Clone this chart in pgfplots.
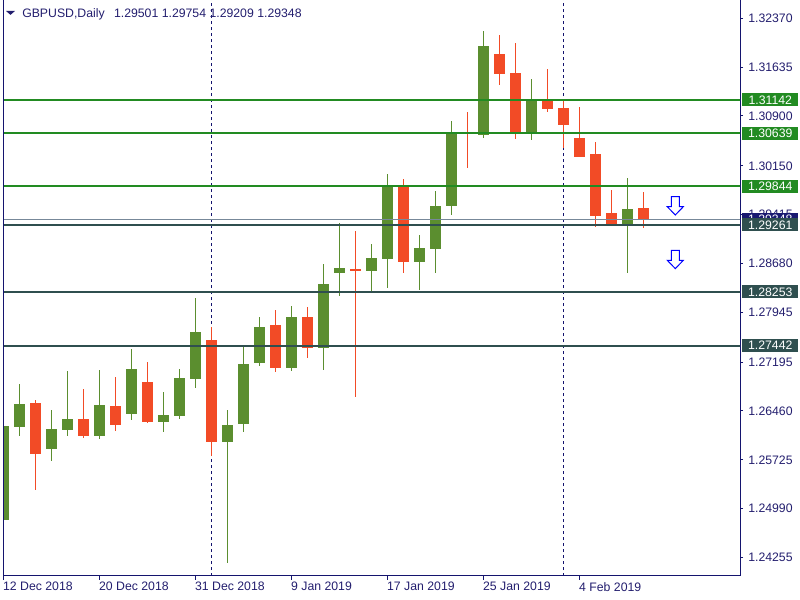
\documentclass[border=0pt]{standalone}
\usepackage{fontspec}
\setmainfont{Liberation Sans}
\usepackage{pgfplots}
\pgfplotsset{compat=1.18}
\usepackage{pgfplotstable}

\definecolor{bull}{RGB}{91,142,47}
\definecolor{bear}{RGB}{242,75,38}
\definecolor{fgreen}{RGB}{34,139,34}
\definecolor{dslate}{RGB}{47,79,79}
\definecolor{lslate}{RGB}{119,136,153}
\definecolor{axnavy}{RGB}{20,20,110}
\definecolor{txnavy}{RGB}{35,30,110}
\definecolor{bidnavy}{RGB}{25,25,112}
\definecolor{arrowblue}{RGB}{0,0,255}

\newcommand\lab{\fontsize{9.2}{10}\selectfont}

\pgfdeclareplotmark{hollowdown}{%
  \pgfpathmoveto{\pgfpoint{-3pt}{6.86pt}}%
  \pgfpathlineto{\pgfpoint{3pt}{6.86pt}}%
  \pgfpathlineto{\pgfpoint{3pt}{-0.64pt}}%
  \pgfpathlineto{\pgfpoint{6pt}{-0.64pt}}%
  \pgfpathlineto{\pgfpoint{0pt}{-6.86pt}}%
  \pgfpathlineto{\pgfpoint{-6pt}{-0.64pt}}%
  \pgfpathlineto{\pgfpoint{-3pt}{-0.64pt}}%
  \pgfpathclose
  \pgfusepathqfillstroke}

% bullish candles: x open high low close
\pgfplotstableread{
x o h l c
0 1.24829 1.26715 1.24759 1.26234
1 1.26223 1.26866 1.26088 1.26565
3 1.25892 1.26475 1.25711 1.26189
4 1.26178 1.27062 1.26088 1.26339
6 1.26088 1.27077 1.26043 1.26550
8 1.26419 1.27393 1.26329 1.27092
10 1.26298 1.26745 1.26148 1.26399
11 1.26389 1.27092 1.26344 1.26956
12 1.26946 1.28160 1.26810 1.27649
14 1.25997 1.26475 1.24176 1.26249
15 1.26268 1.27453 1.26148 1.27167
16 1.27186 1.27874 1.27141 1.27724
18 1.27111 1.28040 1.27066 1.27874
20 1.27412 1.28672 1.27081 1.28371
21 1.28541 1.29289 1.28195 1.28597
23 1.28571 1.28973 1.28240 1.28762
24 1.28752 1.30027 1.28315 1.29846
26 1.28707 1.29108 1.28285 1.28913
27 1.28902 1.29771 1.28541 1.29530
28 1.29549 1.30824 1.29414 1.30629
30 1.30618 1.32179 1.30573 1.31953
33 1.30633 1.31456 1.30543 1.31151
39 1.29279 1.29966 1.28541 1.29500
}\bulltab

% bearish candles: x open high low close
\pgfplotstableread{
x o h l c
2 1.26580 1.26625 1.25275 1.25817
5 1.26339 1.26791 1.26058 1.26088
7 1.26535 1.26971 1.26163 1.26253
9 1.26896 1.27197 1.26283 1.26298
13 1.27528 1.27728 1.25787 1.25997
17 1.27739 1.27980 1.27051 1.27111
19 1.27874 1.28025 1.27262 1.27412
22 1.28597 1.29169 1.26675 1.28571
25 1.29861 1.29951 1.28541 1.28707
29 1.30654 1.30960 1.30121 1.30633
31 1.31833 1.32119 1.31371 1.31536
32 1.31547 1.31998 1.30558 1.30648
34 1.31151 1.31607 1.30964 1.31009
35 1.31020 1.31155 1.30418 1.30769
36 1.30558 1.31035 1.30285 1.30287
37 1.30328 1.30508 1.29233 1.29399
38 1.29425 1.29786 1.29248 1.29264
40 1.29501 1.29754 1.29209 1.29348
}\beartab

\pgfplotsset{candle/.style={only marks, mark=*, mark options={opacity=0, scale=0.01}, forget plot,
  error bars/.cd, y dir=both, y explicit, error mark=none}}

\begin{document}
\begin{tikzpicture}
\useasboundingbox (0,0) rectangle (600pt,450pt);
\begin{axis}[
  at={(2.25pt,18pt)}, anchor=south west,
  scale only axis, width=552.75pt, height=432pt,
  xmin=-0.01875, xmax=46.04375, ymin=1.23976, ymax=1.326454,
  axis x line*=bottom, axis y line*=right,
  axis line style={axnavy, line width=0.75pt},
  tick style={axnavy, line width=0.75pt},
  tick align=outside, major tick length=3pt,
  ytick style={/pgfplots/major tick length=2.25pt},
  xtick={0,6,12,18,24,30,36},
  xticklabels={12 Dec 2018,20 Dec 2018,31 Dec 2018,9 Jan 2019,17 Jan 2019,25 Jan 2019,4 Feb 2019},
  ytick={1.24255,1.24990,1.25725,1.26460,1.27195,1.27945,1.28680,1.29415,1.30150,1.30900,1.31635,1.32370},
  yticklabels={1.24255,1.24990,1.25725,1.26460,1.27195,1.27945,1.28680,1.29415,1.30150,1.30900,1.31635,1.32370},
  xticklabel style={anchor=north west, inner sep=0pt, text=txnavy, font=\lab, xshift=-0.3pt, yshift=-1.5pt},
  yticklabel style={anchor=west, inner sep=0pt, text=txnavy, font=\lab, xshift=3pt},
  after end axis/.code={
    \draw[axnavy, line width=0.75pt] (rel axis cs:0,0) -- (rel axis cs:0,1);
    \fill[txnavy] ([xshift=2.25pt,yshift=-8.25pt]rel axis cs:0,1) -- ++(6.75pt,0) -- ++(-3.375pt,-2.9pt) -- cycle;
    \node[anchor=base west, inner sep=0pt, text=txnavy, font=\lab] at ([xshift=14.25pt,yshift=-13pt]rel axis cs:0,1)
      {GBPUSD,Daily\hspace{7pt}1.29501 1.29754 1.29209 1.29348};
    \node[fill=bidnavy, text=white, font=\lab, inner sep=0pt, minimum width=42pt, minimum height=9.75pt, anchor=west] at ([xshift=1.5pt]axis cs:46.04375,1.29348) {1.29348};
    \foreach \v in {1.31142,1.30639,1.29844}{
      \node[fill=fgreen, text=white, font=\lab, inner sep=0pt, minimum width=42pt, minimum height=9.75pt, anchor=west] at ([xshift=1.5pt]axis cs:46.04375,\v) {\v};
    }
    \foreach \v in {1.29261,1.28253,1.27442}{
      \node[fill=dslate, text=white, font=\lab, inner sep=0pt, minimum width=42pt, minimum height=9.75pt, anchor=west] at ([xshift=1.5pt]axis cs:46.04375,\v) {\v};
    }
  },
]
% period separators
\addplot[axnavy, line width=0.75pt, dash pattern=on 2.25pt off 2.25pt, forget plot] coordinates {(13,1.2) (13,1.33)};
\addplot[axnavy, line width=0.75pt, dash pattern=on 2.25pt off 2.25pt, forget plot] coordinates {(35,1.2) (35,1.33)};

% wicks
\addplot[candle, error bar style={bull, line width=0.75pt}]
  table[x=x, y expr={(\thisrow{h}+\thisrow{l})/2}, y error expr={(\thisrow{h}-\thisrow{l})/2}] {\bulltab};
\addplot[candle, error bar style={bear, line width=0.75pt}]
  table[x=x, y expr={(\thisrow{h}+\thisrow{l})/2}, y error expr={(\thisrow{h}-\thisrow{l})/2}] {\beartab};
% bodies
\addplot[candle, error bar style={bull, line width=8.25pt}]
  table[x=x, y expr={(\thisrow{o}+\thisrow{c})/2}, y error expr={abs(\thisrow{o}-\thisrow{c})/2+0.000075}] {\bulltab};
\addplot[candle, error bar style={bear, line width=8.25pt}]
  table[x=x, y expr={(\thisrow{o}+\thisrow{c})/2}, y error expr={abs(\thisrow{o}-\thisrow{c})/2+0.000075}] {\beartab};

% horizontal levels
\addplot[lslate, line width=0.75pt, forget plot] coordinates {(-1,1.29348) (47,1.29348)};
\addplot[fgreen, line width=1.5pt, forget plot] coordinates {(-1,1.31142) (47,1.31142)};
\addplot[fgreen, line width=1.5pt, forget plot] coordinates {(-1,1.30639) (47,1.30639)};
\addplot[fgreen, line width=1.5pt, forget plot] coordinates {(-1,1.29844) (47,1.29844)};
\addplot[dslate, line width=1.5pt, forget plot] coordinates {(-1,1.29261) (47,1.29261)};
\addplot[dslate, line width=1.5pt, forget plot] coordinates {(-1,1.28253) (47,1.28253)};
\addplot[dslate, line width=1.5pt, forget plot] coordinates {(-1,1.27442) (47,1.27442)};

% arrows
\addplot[only marks, mark=hollowdown, mark options={draw=arrowblue, fill=white, line width=0.75pt}, forget plot]
  coordinates {(42,1.29547) (42,1.28740)};
\end{axis}
\end{tikzpicture}
\end{document}
